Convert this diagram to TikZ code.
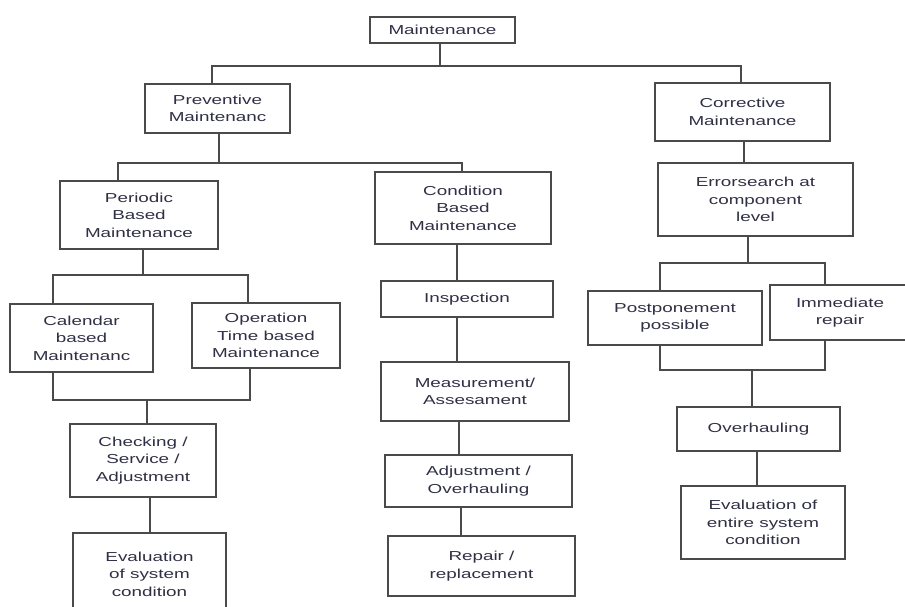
\documentclass[tikz,border=0pt]{standalone}
\usepackage{fontspec}
\setmainfont{Liberation Sans}[FakeStretch=1.45]
\definecolor{linecol}{HTML}{4A4A4A}
\definecolor{textcol}{HTML}{303045}
\begin{document}
\begin{tikzpicture}[x=1pt,y=-1pt,
  box/.style={draw=linecol, line width=1.4pt, fill=white, align=center, inner sep=0pt,
    text=textcol, font=\fontsize{13}{17.5}\selectfont},
  conn/.style={draw=linecol, line width=1.3pt}]
\useasboundingbox[fill=white] (0,0) rectangle (905,607);
% boxes
\node[box, minimum width=145pt, minimum height=26pt] (maint) at (442.5,30) {Maintenance};
\node[box, minimum width=145pt, minimum height=49pt] (prev) at (217.5,108.5) {Preventive\\Maintenanc};
\node[box, minimum width=175pt, minimum height=58pt] (corr) at (742.5,112) {Corrective\\Maintenance};
\node[box, minimum width=158pt, minimum height=68pt] (period) at (139,215) {Periodic\\Based\\Maintenance};
\node[box, minimum width=176pt, minimum height=72pt] (cond) at (463,208) {Condition\\Based\\Maintenance};
\node[box, minimum width=195pt, minimum height=73pt] (err) at (755.5,199.5) {Errorsearch at\\component\\level};
\node[box, minimum width=143pt, minimum height=68pt] (cal) at (81.5,338) {Calendar\\based\\Maintenanc};
\node[box, minimum width=148pt, minimum height=65pt] (oper) at (266,335.5) {Operation\\Time based\\Maintenance};
\node[box, minimum width=172pt, minimum height=36pt] (insp) at (467,299) {Inspection};
\node[box, minimum width=174pt, minimum height=54pt] (post) at (675,318) {Postponement\\possible};
\node[box, minimum width=140pt, minimum height=55pt] (imm) at (840,312.5) {Immediate\\repair};
\node[box, minimum width=146pt, minimum height=73pt] (check) at (143,460.5) {Checking /\\Service /\\Adjustment};
\node[box, minimum width=188pt, minimum height=59pt] (meas) at (475,391.5) {Measurement/\\Assesament};
\node[box, minimum width=163pt, minimum height=44pt] (overh) at (758.5,429) {Overhauling};
\node[box, minimum width=153pt, minimum height=82pt] (evalsys) at (149.5,574) {Evaluation\\of system\\condition};
\node[box, minimum width=187pt, minimum height=52pt] (adj) at (478.5,481) {Adjustment /\\Overhauling};
\node[box, minimum width=187pt, minimum height=60pt] (repair) at (481.5,566) {Repair /\\replacement};
\node[box, minimum width=164pt, minimum height=73pt] (evalent) at (763,522.5) {Evaluation of\\entire system\\condition};
% junction coordinates
\coordinate (j1) at (440,66);  \coordinate (L1) at (212,66);  \coordinate (R1) at (741,66);
\coordinate (j2) at (219,163); \coordinate (L2) at (118,163); \coordinate (R2) at (462,163);
\coordinate (ce) at (744,0);
\coordinate (j3) at (143,275); \coordinate (L3) at (53,275);  \coordinate (R3) at (248,275);
\coordinate (M3) at (147,400); \coordinate (ML3) at (53,400); \coordinate (MR3) at (250,400);
\coordinate (cs) at (150,0);
\coordinate (c1) at (457,0); \coordinate (c2) at (459,0); \coordinate (c3) at (461,0);
\coordinate (j4) at (748,263); \coordinate (L4) at (660,263); \coordinate (R4) at (825,263);
\coordinate (M4) at (752,370); \coordinate (ML4) at (660,370); \coordinate (MR4) at (825,370);
\coordinate (ce2) at (757,0);
% connectors
\draw[conn] (maint.south -| j1) -- (j1);
\draw[conn] (L1 |- prev.north) -- (L1) -- (R1) -- (R1 |- corr.north);
\draw[conn] (prev.south -| j2) -- (j2);
\draw[conn] (L2 |- period.north) -- (L2) -- (R2) -- (R2 |- cond.north);
\draw[conn] (corr.south -| ce) -- (err.north -| ce);
\draw[conn] (period.south -| j3) -- (j3);
\draw[conn] (L3 |- cal.north) -- (L3) -- (R3) -- (R3 |- oper.north);
\draw[conn] (ML3 |- cal.south) -- (ML3) -- (MR3) -- (MR3 |- oper.south);
\draw[conn] (M3) -- (M3 |- check.north);
\draw[conn] (check.south -| cs) -- (evalsys.north -| cs);
\draw[conn] (cond.south -| c1) -- (insp.north -| c1);
\draw[conn] (insp.south -| c1) -- (meas.north -| c1);
\draw[conn] (meas.south -| c2) -- (adj.north -| c2);
\draw[conn] (adj.south -| c3) -- (repair.north -| c3);
\draw[conn] (err.south -| j4) -- (j4);
\draw[conn] (L4 |- post.north) -- (L4) -- (R4) -- (R4 |- imm.north);
\draw[conn] (ML4 |- post.south) -- (ML4) -- (MR4) -- (MR4 |- imm.south);
\draw[conn] (M4) -- (M4 |- overh.north);
\draw[conn] (overh.south -| ce2) -- (evalent.north -| ce2);
\end{tikzpicture}
\end{document}
